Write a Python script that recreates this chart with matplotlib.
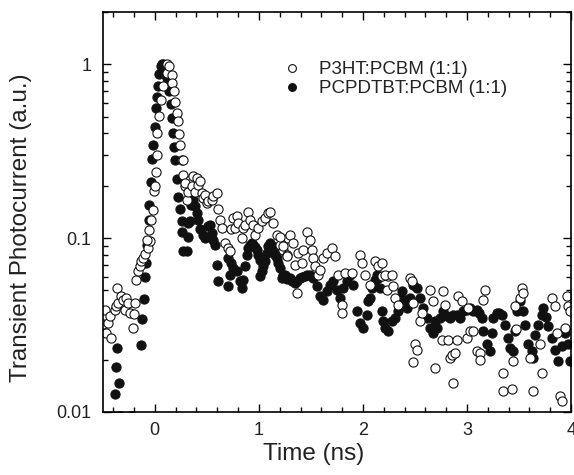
import numpy as np
import matplotlib.pyplot as plt
from matplotlib.ticker import MultipleLocator, LogLocator, NullFormatter, FixedFormatter, FixedLocator

plt.rcParams['font.family'] = ['Liberation Sans', 'DejaVu Sans']

# P3HT:PCBM (open circles)
p3ht_t = [
    -0.497, -0.481, -0.464, -0.449, -0.433, -0.416, -0.385, -0.368, -0.359, -0.353,
    -0.320, -0.305, -0.288, -0.272, -0.257, -0.240, -0.209, -0.199, -0.192, -0.176,
    -0.161, -0.144, -0.128, -0.113, -0.096, -0.070, -0.048,
    -0.074, -0.055, -0.032, -0.016, -0.007, 0.005, 0.012, 0.018, 0.020, 0.038,
    0.055, 0.080, 0.113, 0.120, 0.135, 0.161, 0.170, 0.183, 0.192, 0.214,
    0.224, 0.234, 0.247, 0.257, 0.272, 0.288, 0.314, 0.337,
    0.272, 0.288, 0.320, 0.353, 0.368, 0.385, 0.401, 0.416, 0.433, 0.449,
    0.464, 0.481, 0.497, 0.513, 0.545, 0.561, 0.593, 0.609, 0.625, 0.641,
    0.673, 0.705, 0.721, 0.737, 0.753, 0.769, 0.786, 0.801, 0.834, 0.849,
    0.865, 0.897, 0.913, 0.945, 0.962, 0.993, 1.026, 1.058, 1.089, 1.106,
    1.138, 1.170, 1.202, 1.234, 1.266, 1.282, 1.202, 1.234, 1.266, 1.298,
    1.330, 1.346, 1.362, 1.378, 1.411, 1.426, 1.459, 1.490, 1.507, 1.522,
    1.538, 1.570, 1.587, 1.618, 1.651, 1.699, 1.731, 1.763, 1.795, 1.795,
    1.827, 1.891, 1.971, 1.988, 2.019, 2.067, 2.115, 2.147, 2.180, 2.228,
    2.243, 2.180, 2.212, 2.276, 2.292, 2.308, 2.339, 2.452, 2.468, 2.484,
    2.500, 2.516, 2.484, 2.548, 2.564, 2.644, 2.676, 2.692, 2.772, 2.788,
    2.757, 2.820, 2.837, 2.853, 2.885, 2.901, 2.868, 2.916, 2.949, 2.997,
    3.013, 3.029, 3.061, 3.093, 3.157, 3.173, 3.125, 3.125, 3.349, 3.349,
    3.430, 3.462, 3.510, 3.526, 3.445, 3.606, 3.638, 3.702, 3.718, 3.814,
    3.846, 3.862, 3.894, 3.911, 3.959, 3.974, 3.990, 3.942, 3.542, 3.470,
]
p3ht_v = [
    0.0318, 0.0387, 0.0284, 0.0324, 0.0355, 0.0266, 0.0387, 0.0405, 0.0516, 0.0422,
    0.0462, 0.0442, 0.0387, 0.0452, 0.0422, 0.0370, 0.0304, 0.0366, 0.0422, 0.0575,
    0.0644, 0.0688, 0.0734, 0.0767, 0.0810, 0.0877, 0.0957,
    0.0978, 0.1116, 0.127, 0.1455, 0.186, 0.200, 0.240, 0.300, 0.400, 0.505,
    0.624, 0.745, 0.887, 1.0, 0.97, 0.869, 0.778, 0.697, 0.610, 0.527,
    0.469, 0.396, 0.344, 0.282, 0.231, 0.200, 0.166, 0.216,
    0.282, 0.207, 0.185, 0.198, 0.226, 0.185, 0.221, 0.202, 0.212, 0.182,
    0.170, 0.177, 0.159, 0.163, 0.166, 0.174, 0.182, 0.146, 0.127, 0.114,
    0.0936, 0.0877, 0.0839, 0.112, 0.130, 0.114, 0.133, 0.122, 0.100, 0.114,
    0.119, 0.142, 0.127, 0.119, 0.1045, 0.114, 0.125, 0.130, 0.139, 0.142,
    0.122, 0.1045, 0.0915, 0.0857, 0.0802, 0.100, 0.102, 0.0896, 0.0785, 0.1045,
    0.0936, 0.0703, 0.0483, 0.082, 0.0718, 0.0857, 0.109, 0.0978, 0.0857, 0.0767,
    0.0688, 0.0616, 0.0658, 0.0767, 0.082, 0.0877, 0.0785, 0.0616, 0.0414, 0.0371,
    0.063, 0.063, 0.0802, 0.0718, 0.0616, 0.0539, 0.0734, 0.0688, 0.0603, 0.0505,
    0.0603, 0.0718, 0.0616, 0.0616, 0.0527, 0.0452, 0.0414, 0.0589, 0.0564, 0.0422,
    0.0244, 0.0228, 0.0194, 0.0332, 0.0371, 0.0505, 0.0432, 0.0179, 0.0494, 0.0414,
    0.026, 0.026, 0.0204, 0.0213, 0.0218, 0.026, 0.0147, 0.0462, 0.0432, 0.0266,
    0.0396, 0.0291, 0.0291, 0.0223, 0.0442, 0.0505, 0.0218, 0.0200, 0.0167, 0.0132,
    0.0136, 0.0405, 0.0452, 0.0516, 0.0196, 0.0204, 0.0132, 0.0244, 0.0167, 0.0452,
    0.0405, 0.0285, 0.0123, 0.0115, 0.0462, 0.0405, 0.0379, 0.0304, 0.0480, 0.0300,
]

# PCPDTBT:PCBM (filled circles)
pcpdtbt_t = [
    -0.404, -0.385, -0.368, -0.359, -0.346, -0.337, -0.224,
    -0.128, -0.122, -0.106, -0.096, -0.087, -0.074, -0.058, -0.055, -0.038, -0.026,
    -0.013, 0.000, 0.010, 0.022, 0.032, 0.041, 0.055, 0.067, 0.080, 0.096,
    0.106, 0.122, 0.135, 0.151, 0.161, 0.176, 0.183, 0.192, 0.209, 0.224,
    0.240, 0.257, 0.257, 0.272, 0.305, 0.320, 0.320, 0.337, 0.346, 0.368,
    0.385, 0.401, 0.416, 0.433, 0.464, 0.481, 0.513, 0.529, 0.545, 0.561,
    0.577, 0.593, 0.609, 0.705, 0.705, 0.721, 0.737, 0.753, 0.786, 0.817,
    0.834, 0.849, 0.865, 0.882, 0.897, 0.913, 0.930, 0.945, 0.962, 0.978,
    0.993, 1.010, 1.026, 1.010, 1.041, 1.058, 1.074, 1.089, 1.106, 1.122,
    1.138, 1.154, 1.170, 1.186, 1.202, 1.218, 1.234, 1.250, 1.274, 1.298,
    1.322, 1.346, 1.370, 1.394, 1.418, 1.442, 1.466, 1.490, 1.522, 1.555,
    1.587, 1.618, 1.651, 1.683, 1.714, 1.747, 1.779, 1.811, 1.843, 1.875,
    1.907, 1.939, 1.971, 2.003, 2.036, 2.051, 2.067, 2.091, 2.115, 2.132,
    2.149, 2.163, 2.180, 2.195, 2.212, 2.243, 2.276, 2.308, 2.339, 2.356,
    2.372, 2.404, 2.420, 2.452, 2.484, 2.516, 2.548, 2.580, 2.613, 2.644,
    2.676, 2.709, 2.692, 2.740, 2.772, 2.805, 2.837, 2.868, 2.901, 2.933,
    2.964, 2.997, 3.029, 3.061, 3.093, 3.117, 3.141, 3.157, 3.190, 3.221,
    3.238, 3.253, 3.286, 3.310, 3.334, 3.365, 3.397, 3.413, 3.445, 3.462,
    3.478, 3.510, 3.541, 3.558, 3.590, 3.622, 3.638, 3.654, 3.686, 3.718,
    3.734, 3.758, 3.782, 3.814, 3.846, 3.878, 3.911, 3.942, 3.974, 3.990,
]
pcpdtbt_v = [
    0.0095, 0.0126, 0.0182, 0.0232, 0.0146, 0.0095, 0.0095,
    0.0242, 0.034, 0.0446, 0.060, 0.0718, 0.0915, 0.127, 0.155, 0.209, 0.284,
    0.344, 0.434, 0.558, 0.650, 0.750, 0.880, 0.970, 1.0, 1.0, 0.99,
    0.95, 0.83, 0.70, 0.59, 0.49, 0.40, 0.333, 0.28, 0.218, 0.172,
    0.146, 0.109, 0.125, 0.0839, 0.0839, 0.122, 0.102, 0.125, 0.155, 0.166,
    0.152, 0.139, 0.127, 0.112, 0.1045, 0.100, 0.117, 0.119, 0.107, 0.0978,
    0.0915, 0.0703, 0.0564, 0.0527, 0.0767, 0.0616, 0.0718, 0.0673, 0.0644, 0.0564,
    0.0516, 0.0577, 0.0688, 0.0802, 0.0877, 0.0915, 0.0936, 0.0915, 0.089, 0.0857,
    0.0802, 0.075, 0.0644, 0.0603, 0.069, 0.0734, 0.082, 0.0896, 0.0936, 0.0896,
    0.0857, 0.0802, 0.0767, 0.0718, 0.0673, 0.0589, 0.0616, 0.0616, 0.058, 0.0589,
    0.0565, 0.0551, 0.0565, 0.0589, 0.060, 0.0603, 0.061, 0.0616, 0.0589, 0.0527,
    0.0462, 0.0442, 0.0494, 0.0539, 0.0564, 0.0505, 0.0452, 0.0516, 0.0564, 0.0616,
    0.0539, 0.0379, 0.0324, 0.0304, 0.0362, 0.0432, 0.0452, 0.0516, 0.0577, 0.0616,
    0.0589, 0.0516, 0.0379, 0.0332, 0.0304, 0.0291, 0.0332, 0.0347, 0.0379, 0.0452,
    0.0494, 0.0442, 0.0396, 0.0452, 0.0539, 0.0516, 0.0452, 0.0396, 0.0347, 0.0304,
    0.0285, 0.0304, 0.0332, 0.0347, 0.0379, 0.0355, 0.0347, 0.0362, 0.0362, 0.0347,
    0.0379, 0.0387, 0.0396, 0.0379, 0.0387, 0.037, 0.0347, 0.0291, 0.0244, 0.0223,
    0.0285, 0.0347, 0.0371, 0.037, 0.0362, 0.0317, 0.0266, 0.0234, 0.0223, 0.0291,
    0.0379, 0.0432, 0.0379, 0.0317, 0.0244, 0.0223, 0.0204, 0.0278, 0.0317, 0.0362,
    0.0396, 0.035, 0.0311, 0.0266, 0.0228, 0.0196, 0.0239, 0.0285, 0.0244, 0.0196,
]

txt = '#222222'

fig = plt.figure(figsize=(5.74, 4.75), dpi=100)
ax = fig.add_axes([0.179, 0.133, 0.816, 0.842])

ax.plot(pcpdtbt_t, pcpdtbt_v, linestyle='none', marker='o', markersize=6.6,
        markerfacecolor='#111111', markeredgecolor='#111111', markeredgewidth=0.8,
        label='PCPDTBT:PCBM (1:1)')
ax.plot(p3ht_t, p3ht_v, linestyle='none', marker='o', markersize=6.6,
        markerfacecolor='white', markeredgecolor='#111111', markeredgewidth=0.8,
        label='P3HT:PCBM (1:1)')

ax.set_yscale('log')
ax.set_xlim(-0.5, 4)
ax.set_ylim(0.01, 2.0)

ax.xaxis.set_major_locator(MultipleLocator(1))
ax.xaxis.set_minor_locator(MultipleLocator(0.2))
ax.yaxis.set_major_locator(FixedLocator([0.01, 0.1, 1]))
ax.yaxis.set_major_formatter(FixedFormatter(['0.01', '0.1', '1']))
ax.yaxis.set_minor_locator(LogLocator(base=10, subs=np.arange(2, 10)))
ax.yaxis.set_minor_formatter(NullFormatter())

ax.tick_params(which='both', direction='in', top=True, right=True, labelsize=13,
               width=1, labelcolor=txt)
ax.tick_params(which='major', length=6)
ax.tick_params(which='minor', length=3.5)
ax.tick_params(axis='x', which='major', pad=7)
ax.tick_params(axis='y', which='major', pad=8)
for s in ax.spines.values():
    s.set_linewidth(1.2)

ax.set_xlabel('Time (ns)', fontsize=17.5, color=txt)
ax.set_ylabel('Transient Photocurrent (a.u.)', fontsize=17.5, color=txt)
ax.xaxis.set_label_coords(0.451, -0.078)
ax.yaxis.set_label_coords(-0.152, 0.46)

h, l = ax.get_legend_handles_labels()
leg = ax.legend([h[1], h[0]], [l[1], l[0]], loc='upper left', bbox_to_anchor=(0.385, 0.877),
                frameon=False, fontsize=13.5, handletextpad=0.9, labelspacing=0.1,
                handlelength=1.0, markerscale=0.85, borderpad=0, borderaxespad=0)
for t in leg.get_texts():
    t.set_color(txt)

fig.savefig('out.png', dpi=100)
